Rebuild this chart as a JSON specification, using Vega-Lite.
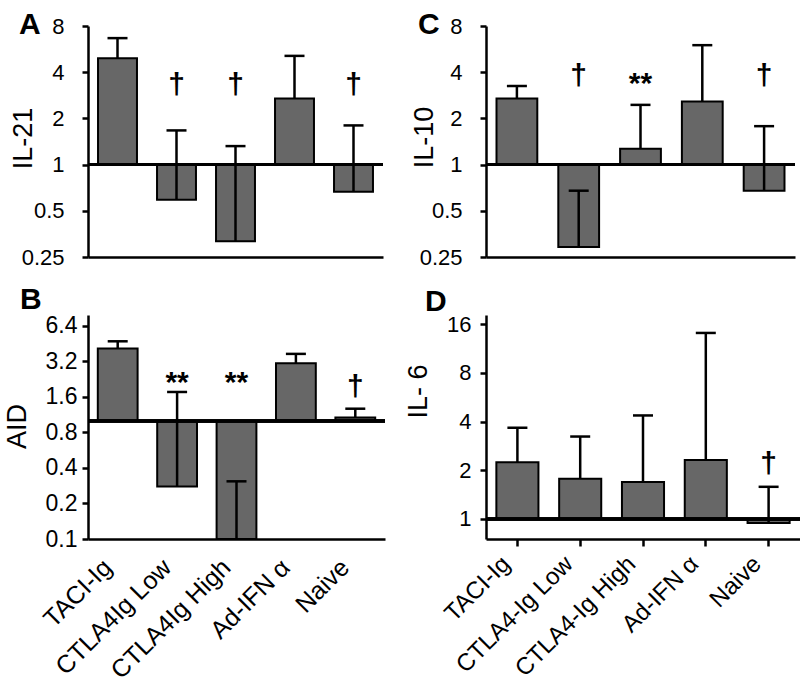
{
  "$schema": "https://vega.github.io/schema/vega-lite/v6.json",
  "padding": {"left": 3, "top": 10, "right": 0, "bottom": 0},
  "background": "white",
  "config": {
    "font": "Liberation Sans",
    "view": {"stroke": null},
    "axis": {"domainColor": "black", "domainWidth": 2.5, "tickColor": "black", "tickWidth": 2.5, "tickSize": 6, "labelColor": "black", "titleColor": "black", "grid": false, "titleFontWeight": "normal", "labelFont": "Liberation Sans", "titleFont": "Liberation Sans"},
    "title": {"font": "Liberation Sans", "fontWeight": "bold", "fontSize": 30, "anchor": "start", "frame": "group", "baseline": "alphabetic", "offset": 0, "color": "black"},
    "text": {"font": "Liberation Sans"}
  },
  "datasets": {
    "il21": [
      {"group": "TACI-Ig", "value": 4.93, "err": 6.67, "sig": null, "sig_y": 3.3},
      {"group": "CTLA4Ig Low", "value": 0.59, "err": 1.67, "sig": "†", "sig_y": 3.3},
      {"group": "CTLA4Ig High", "value": 0.317, "err": 1.32, "sig": "†", "sig_y": 3.3},
      {"group": "Ad-IFN α", "value": 2.70, "err": 5.11, "sig": null, "sig_y": 3.3},
      {"group": "Naive", "value": 0.665, "err": 1.80, "sig": "†", "sig_y": 3.3}
    ],
    "aid": [
      {"group": "TACI-Ig", "value": 4.1, "err": 4.73, "sig": null, "sig_y": 2.08},
      {"group": "CTLA4Ig Low", "value": 0.278, "err": 1.76, "sig": "**", "sig_y": 2.08},
      {"group": "CTLA4Ig High", "value": 0.1, "err": 0.308, "sig": "**", "sig_y": 2.08},
      {"group": "Ad-IFN α", "value": 3.08, "err": 3.7, "sig": null, "sig_y": 2.08},
      {"group": "Naive", "value": 1.07, "err": 1.27, "sig": "†", "sig_y": 1.95}
    ],
    "il10": [
      {"group": "TACI-Ig", "value": 2.70, "err": 3.25, "sig": null, "sig_y": 3.78},
      {"group": "CTLA4-Ig Low", "value": 0.29, "err": 0.676, "sig": "†", "sig_y": 3.78},
      {"group": "CTLA4-Ig High", "value": 1.27, "err": 2.45, "sig": "**", "sig_y": 3.33},
      {"group": "Ad-IFN α", "value": 2.58, "err": 6.0, "sig": null, "sig_y": 3.78},
      {"group": "Naive", "value": 0.676, "err": 1.78, "sig": "†", "sig_y": 3.78}
    ],
    "il6": [
      {"group": "TACI-Ig", "value": 2.24, "err": 3.66, "sig": null, "sig_y": 2.18},
      {"group": "CTLA4-Ig Low", "value": 1.77, "err": 3.23, "sig": null, "sig_y": 2.18},
      {"group": "CTLA4-Ig High", "value": 1.69, "err": 4.36, "sig": null, "sig_y": 2.18},
      {"group": "Ad-IFN α", "value": 2.31, "err": 14.1, "sig": null, "sig_y": 2.18},
      {"group": "Naive", "value": 0.945, "err": 1.58, "sig": "†", "sig_y": 2.18}
    ]
  },
  "bounds": "flush",
  "align": "each",
  "columns": 2,
  "spacing": {"row": 58, "column": 101},
  "concat": [
    {
      "width": 295, "height": 231,
      "title": {"text": "A", "dx": -69, "dy": 29},
      "data": {"name": "il21"},
      "layer": [
        {"mark": {"type": "bar", "color": "#676767", "stroke": "black", "strokeWidth": 2},
         "encoding": {
           "x": {"field": "group", "type": "nominal", "sort": null, "scale": {"paddingInner": 0.34, "paddingOuter": 0.17}, "axis": {"title": null, "labels": false, "ticks": false}},
           "y": {"field": "value", "type": "quantitative", "scale": {"type": "log", "base": 2, "domain": [0.25, 8], "nice": false},
                 "axis": {"values": [0.25, 0.5, 1, 2, 4, 8], "format": "~g", "labelFontSize": 22, "labelPadding": 18, "title": "IL-21", "titleFontSize": 27, "titleX": -57, "titleY": 112, "titleAngle": -90, "titleBaseline": "alphabetic", "titleAlign": "center"}},
           "y2": {"datum": 1}
         }},
        {"mark": {"type": "rule", "color": "black", "strokeWidth": 3}, "encoding": {"y": {"datum": 1}}},
        {"mark": {"type": "rule", "color": "black", "strokeWidth": 2.5},
         "encoding": {"x": {"field": "group", "type": "nominal", "sort": null}, "y": {"field": "value", "type": "quantitative"}, "y2": {"field": "err"}}},
        {"mark": {"type": "tick", "color": "black", "size": 20, "thickness": 2.5, "opacity": 1},
         "encoding": {"x": {"field": "group", "type": "nominal", "sort": null}, "y": {"field": "err", "type": "quantitative"}}},
        {"transform": [{"filter": "datum.sig != null"}],
         "mark": {"type": "text", "fontSize": 30, "fontWeight": "bold", "baseline": "middle", "color": "black"},
         "encoding": {"x": {"field": "group", "type": "nominal", "sort": null}, "y": {"field": "sig_y", "type": "quantitative"}, "text": {"field": "sig"}}}
      ]
    },
    {
      "width": 309, "height": 231,
      "title": {"text": "C", "dx": -68, "dy": 29},
      "data": {"name": "il10"},
      "layer": [
        {"mark": {"type": "bar", "color": "#676767", "stroke": "black", "strokeWidth": 2},
         "encoding": {
           "x": {"field": "group", "type": "nominal", "sort": null, "scale": {"paddingInner": 0.34, "paddingOuter": 0.17}, "axis": {"title": null, "labels": false, "ticks": false}},
           "y": {"field": "value", "type": "quantitative", "scale": {"type": "log", "base": 2, "domain": [0.25, 8], "nice": false},
                 "axis": {"values": [0.25, 0.5, 1, 2, 4, 8], "format": "~g", "labelFontSize": 22, "labelPadding": 18, "title": "IL-10", "titleFontSize": 27, "titleX": -54, "titleY": 111, "titleAngle": -90, "titleBaseline": "alphabetic", "titleAlign": "center"}},
           "y2": {"datum": 1}
         }},
        {"mark": {"type": "rule", "color": "black", "strokeWidth": 3}, "encoding": {"y": {"datum": 1}}},
        {"mark": {"type": "rule", "color": "black", "strokeWidth": 2.5},
         "encoding": {"x": {"field": "group", "type": "nominal", "sort": null}, "y": {"field": "value", "type": "quantitative"}, "y2": {"field": "err"}}},
        {"mark": {"type": "tick", "color": "black", "size": 20, "thickness": 2.5, "opacity": 1},
         "encoding": {"x": {"field": "group", "type": "nominal", "sort": null}, "y": {"field": "err", "type": "quantitative"}}},
        {"transform": [{"filter": "datum.sig != null"}],
         "mark": {"type": "text", "fontSize": 30, "fontWeight": "bold", "baseline": "middle", "color": "black"},
         "encoding": {"x": {"field": "group", "type": "nominal", "sort": null}, "y": {"field": "sig_y", "type": "quantitative"}, "text": {"field": "sig"}}}
      ]
    },
    {
      "width": 297, "height": 224,
      "title": {"text": "B", "dx": -68, "dy": 4},
      "data": {"name": "aid"},
      "layer": [
        {"mark": {"type": "bar", "color": "#676767", "stroke": "black", "strokeWidth": 2},
         "encoding": {
           "x": {"field": "group", "type": "nominal", "sort": null, "scale": {"paddingInner": 0.33, "paddingOuter": 0.165},
                 "axis": {"title": null, "ticks": false, "labelAngle": -45, "labelFontSize": 25, "labelPadding": 24, "labelOffset": -10, "labelAlign": "right", "labelBaseline": "middle"}},
           "y": {"field": "value", "type": "quantitative", "scale": {"type": "log", "base": 2, "domain": [0.1, 7.9], "nice": false},
                 "axis": {"values": [0.1, 0.2, 0.4, 0.8, 1.6, 3.2, 6.4], "format": "~g", "labelFontSize": 23, "labelPadding": 5, "title": "AID", "titleFontSize": 27, "titleX": -63, "titleY": 111, "titleAngle": -90, "titleBaseline": "alphabetic", "titleAlign": "center"}},
           "y2": {"datum": 1}
         }},
        {"mark": {"type": "rule", "color": "black", "strokeWidth": 3}, "encoding": {"y": {"datum": 1}}},
        {"mark": {"type": "rule", "color": "black", "strokeWidth": 2.5},
         "encoding": {"x": {"field": "group", "type": "nominal", "sort": null}, "y": {"field": "value", "type": "quantitative"}, "y2": {"field": "err"}}},
        {"mark": {"type": "tick", "color": "black", "size": 20, "thickness": 2.5, "opacity": 1},
         "encoding": {"x": {"field": "group", "type": "nominal", "sort": null}, "y": {"field": "err", "type": "quantitative"}}},
        {"transform": [{"filter": "datum.sig != null"}],
         "mark": {"type": "text", "fontSize": 30, "fontWeight": "bold", "baseline": "middle", "color": "black"},
         "encoding": {"x": {"field": "group", "type": "nominal", "sort": null}, "y": {"field": "sig_y", "type": "quantitative"}, "text": {"field": "sig"}}}
      ]
    },
    {
      "width": 314, "height": 224,
      "title": {"text": "D", "dx": -61, "dy": 8},
      "data": {"name": "il6"},
      "layer": [
        {"mark": {"type": "bar", "color": "#676767", "stroke": "black", "strokeWidth": 2},
         "encoding": {
           "x": {"field": "group", "type": "nominal", "sort": null, "scale": {"paddingInner": 0.33, "paddingOuter": 0.165},
                 "axis": {"title": null, "ticks": true, "tickSize": 7, "labelAngle": -45, "labelFontSize": 24, "labelPadding": 14, "labelOffset": -11, "labelAlign": "right", "labelBaseline": "middle"}},
           "y": {"field": "value", "type": "quantitative", "scale": {"type": "log", "base": 2, "domain": [0.752, 18.2], "nice": false},
                 "axis": {"values": [1, 2, 4, 8, 16], "format": "~g", "labelFontSize": 22, "labelPadding": 9, "title": "IL- 6", "titleFontSize": 27, "titleX": -60, "titleY": 76, "titleAngle": -90, "titleBaseline": "alphabetic", "titleAlign": "center"}},
           "y2": {"datum": 1}
         }},
        {"mark": {"type": "rule", "color": "black", "strokeWidth": 3}, "encoding": {"y": {"datum": 1}}},
        {"mark": {"type": "rule", "color": "black", "strokeWidth": 2.5},
         "encoding": {"x": {"field": "group", "type": "nominal", "sort": null}, "y": {"field": "value", "type": "quantitative"}, "y2": {"field": "err"}}},
        {"mark": {"type": "tick", "color": "black", "size": 20, "thickness": 2.5, "opacity": 1},
         "encoding": {"x": {"field": "group", "type": "nominal", "sort": null}, "y": {"field": "err", "type": "quantitative"}}},
        {"transform": [{"filter": "datum.sig != null"}],
         "mark": {"type": "text", "fontSize": 30, "fontWeight": "bold", "baseline": "middle", "color": "black"},
         "encoding": {"x": {"field": "group", "type": "nominal", "sort": null}, "y": {"field": "sig_y", "type": "quantitative"}, "text": {"field": "sig"}}}
      ]
    }
  ]
}
